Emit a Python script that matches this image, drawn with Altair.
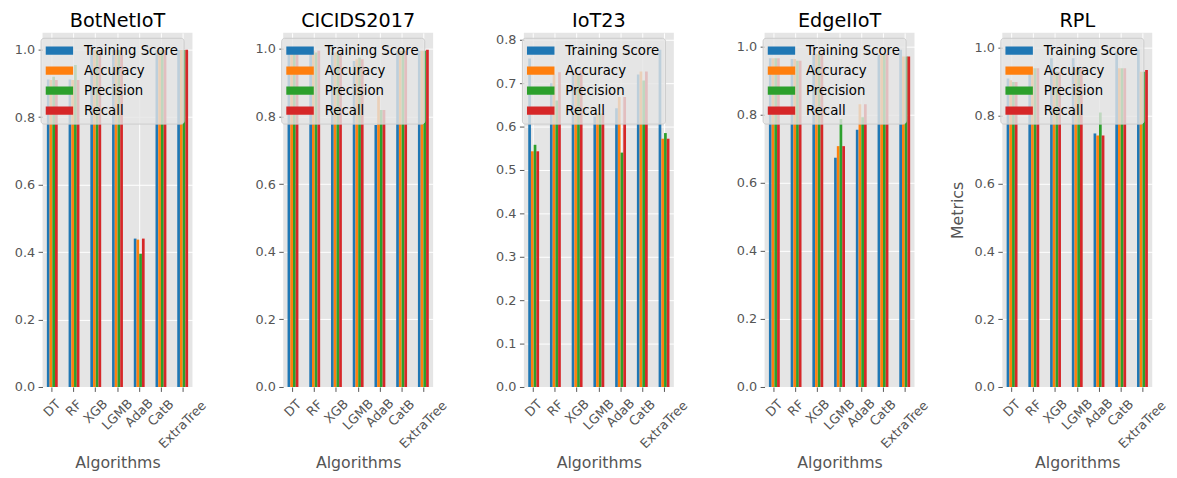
import altair as alt
import pandas as pd

algorithms = ["DT", "RF", "XGB", "LGMB", "AdaB", "CatB", "ExtraTree"]
metrics = ["Training Score", "Accuracy", "Precision", "Recall"]
colors = ["#1f77b4", "#ff7f0e", "#2ca02c", "#d62728"]
datasets = ["BotNetIoT", "CICIDS2017", "IoT23", "EdgeIIoT", "RPL"]

botnet_train = [0.912, 0.912, 0.999, 0.999, 0.440, 0.999, 0.999]
botnet_acc = [0.910, 0.910, 0.999, 0.999, 0.437, 0.999, 0.999]
botnet_prec = [0.920, 0.955, 0.999, 0.999, 0.395, 0.999, 0.999]
botnet_rec = [0.910, 0.910, 0.999, 0.999, 0.440, 0.999, 1.000]

cicids_train = [0.990, 0.990, 0.990, 0.965, 0.775, 0.995, 0.995]
cicids_acc = [0.990, 0.995, 0.990, 0.970, 0.860, 0.995, 0.995]
cicids_prec = [0.990, 0.990, 0.990, 0.975, 0.820, 0.995, 0.995]
cicids_rec = [0.990, 0.995, 0.990, 0.970, 0.820, 0.995, 0.998]

iot23_train = [0.757, 0.700, 0.725, 0.623, 0.642, 0.720, 0.777]
iot23_acc = [0.543, 0.720, 0.730, 0.630, 0.668, 0.727, 0.572]
iot23_prec = [0.558, 0.660, 0.720, 0.630, 0.540, 0.706, 0.585]
iot23_rec = [0.543, 0.725, 0.730, 0.630, 0.668, 0.727, 0.572]

edge_train = [0.965, 0.963, 0.978, 0.673, 0.755, 0.975, 0.990]
edge_acc = [0.965, 0.963, 0.978, 0.707, 0.830, 0.978, 0.970]
edge_prec = [0.965, 0.958, 0.978, 0.787, 0.792, 0.978, 0.970]
edge_rec = [0.965, 0.958, 0.978, 0.707, 0.830, 0.978, 0.970]

rpl_train = [0.910, 0.940, 0.970, 0.970, 0.748, 0.990, 0.995]
rpl_acc = [0.905, 0.940, 0.930, 0.940, 0.742, 0.940, 0.930]
rpl_prec = [0.900, 0.940, 0.930, 0.940, 0.810, 0.940, 0.930]
rpl_rec = [0.900, 0.940, 0.930, 0.940, 0.742, 0.940, 0.935]

series = {
    "BotNetIoT": [botnet_train, botnet_acc, botnet_prec, botnet_rec],
    "CICIDS2017": [cicids_train, cicids_acc, cicids_prec, cicids_rec],
    "IoT23": [iot23_train, iot23_acc, iot23_prec, iot23_rec],
    "EdgeIIoT": [edge_train, edge_acc, edge_prec, edge_rec],
    "RPL": [rpl_train, rpl_acc, rpl_prec, rpl_rec],
}

FONT = "DejaVu Sans"
W, H = 152, 359
GRAY = "#555555"

label_pad_expr = (
    "5.5 + 0.3536 * (9.3 * length(replace(datum.label, regexp('[^A-Z]', 'g'), ''))"
    " + 6.8 * length(replace(datum.label, regexp('[A-Z]', 'g'), '')) + 13)"
)


def build_df(name):
    rows = []
    for m, vals in zip(metrics, series[name]):
        for a, v in zip(algorithms, vals):
            rows.append({"Algorithm": a, "Metric": m, "Value": v})
    return pd.DataFrame(rows)


def panel(name, ytitle):
    df = build_df(name)
    ymax = 1.05 * df["Value"].max()
    step = 0.1 if ymax < 0.9 else 0.2
    ticks = [round(i * step, 1) for i in range(int(ymax / step + 1e-9) + 1)]
    yaxis_kwargs = dict(
        values=ticks, format=".1f", grid=True, gridColor="white", gridWidth=1,
        tickColor=GRAY, tickSize=4.5, labelPadding=3.5, labelColor=GRAY,
        labelFontSize=13, labelFont=FONT, domain=False,
        minExtent=35, maxExtent=35,
        titleFontSize=16, titleColor=GRAY, titleFont=FONT,
        titleFontWeight="normal", titlePadding=2,
    )
    return (
        alt.Chart(df)
        .mark_bar()
        .encode(
            x=alt.X(
                "Algorithm:N", sort=algorithms,
                scale=alt.Scale(paddingInner=0.5, paddingOuter=0.2),
                axis=alt.Axis(
                    title="Algorithms", labelAngle=-45, labelAlign="center",
                    labelBaseline="middle", labelPadding=alt.ExprRef(expr=label_pad_expr),
                    grid=True, gridColor="white", gridWidth=1,
                    tickColor=GRAY, tickSize=4.5, labelColor=GRAY,
                    labelFontSize=13, labelFont=FONT, domain=False,
                    titleFontSize=16, titleColor=GRAY, titleFont=FONT,
                    titleFontWeight="normal", titlePadding=4,
                ),
            ),
            xOffset=alt.XOffset("Metric:N", sort=metrics),
            y=alt.Y(
                "Value:Q",
                scale=alt.Scale(domain=[0, ymax], nice=False, zero=True),
                axis=alt.Axis(**yaxis_kwargs),
                title=ytitle,
            ),
            color=alt.Color(
                "Metric:N", sort=metrics,
                scale=alt.Scale(domain=metrics, range=colors),
                legend=alt.Legend(
                    title=None, orient="none", legendX=-2, legendY=5,
                    direction="vertical",
                    symbolType="M-1,-0.3H1V0.3H-1Z", symbolSize=784,
                    symbolStrokeWidth=0, symbolOpacity=1,
                    labelFont=FONT, labelFontSize=13.5, labelColor="black",
                    labelOffset=11, clipHeight=16, rowPadding=4.3, padding=5,
                    fillColor="rgba(229,229,229,0.8)", strokeColor="#cccccc",
                    cornerRadius=3,
                ),
            ),
        )
        .properties(
            width=W, height=H,
            title=alt.TitleParams(text=name, font=FONT, fontSize=19.5,
                                  fontWeight="normal", color="black", offset=1),
        )
    )


inner = (
    alt.hconcat(*[panel(n, None) for n in datasets[:4]], spacing=40)
    .resolve_scale(x="independent", y="independent", color="independent")
    .resolve_legend(color="independent")
)

chart = (
    alt.hconcat(inner, panel("RPL", "Metrics"), spacing=19)
    .resolve_scale(x="independent", y="independent", color="independent")
    .resolve_legend(color="independent")
    .properties(padding={"left": 0, "top": 0, "right": 0, "bottom": 0})
    .configure_view(strokeWidth=0, fill="#E5E5E5")
)

chart.save("out.html", embed_options={"renderer": "svg", "actions": False})
